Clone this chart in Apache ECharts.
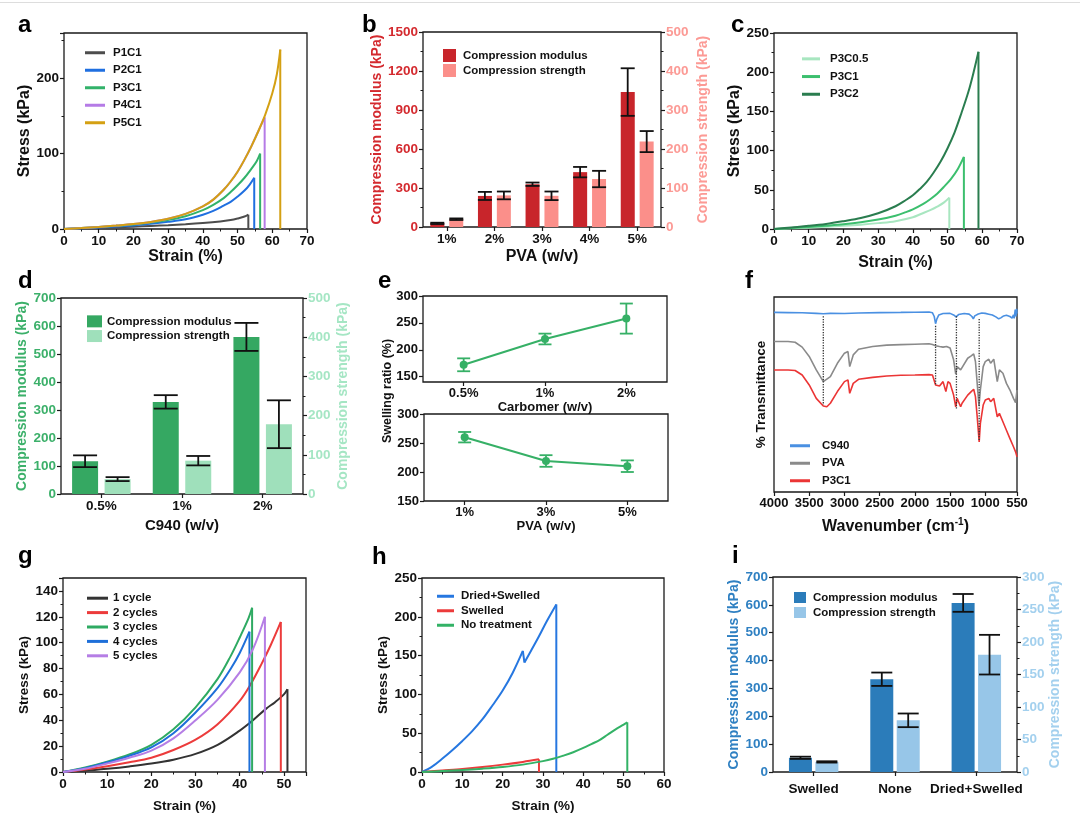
<!DOCTYPE html>
<html>
<head>
<meta charset="utf-8">
<script src="https://cdn.jsdelivr.net/npm/echarts@6/dist/echarts.min.js"></script>
<style>
html, body { margin: 0; padding: 0; background: #fff; }
#main { width: 1080px; height: 821px; }
</style>
</head>
<body>
<div id="main"></div>
<script>
// ---- a: stress-strain for PVA content ----
var aP1C1 = [[0,0],[5,0.7],[10,1.5],[15,2.2],[20,3],[25,4],[30,5],[35,6.2],[40,7.8],[45,10],[48,12],[50,14],[52,16.5],[53.1,19],[53.1,0]];
var aP2C1 = [[0,0],[5,1],[10,2],[15,3.2],[20,4.8],[25,6.8],[30,9.5],[35,13],[40,19],[43,24],[46,31],[48,36],[50,43],[52,51],[53.5,59],[54.8,68],[54.8,0]];
var aP3C1 = [[0,0],[5,1.2],[10,2.7],[15,4.2],[20,6],[25,8.5],[30,12],[35,17],[40,25],[43,32],[46,41],[48,49],[50,58],[52,68],[54,80],[55.5,90],[56.5,100],[56.5,0]];
var aP4C1 = [[0,0],[5,1.3],[10,2.8],[15,4.5],[20,6.5],[25,9.3],[30,13.5],[35,20],[40,30],[43,39],[46,52],[48,63],[50,76],[52,92],[54,110],[56,130],[57.8,148],[57.8,0]];
var aP5C1 = [[0,0],[5,1.3],[10,2.8],[15,4.5],[20,6.5],[25,9.3],[30,13.5],[35,20],[40,30],[43,39],[46,52],[48,63],[50,76],[52,92],[54,110],[56,130],[58,152],[60,180],[61.3,205],[62.3,238],[62.3,0]];

// ---- b: PVA bars ----
var bCats = ['1%', '2%', '3%', '4%', '5%'];
var bModulus = [28, 239, 329, 422, 1038];
var bModulusErr = [5, 31, 13, 40, 183];
var bStrength = [20, 81, 80, 123, 219];
var bStrengthErr = [2, 10, 11, 21, 27];

// ---- c: stress-strain for carbomer content ----
var cP3C05 = [[0,0],[5,0.8],[10,1.7],[15,2.8],[20,4],[25,5.5],[30,7.5],[35,10],[40,15],[42.5,19.5],[45,24],[47,28.5],[49,34],[50.5,40],[50.5,0]];
var cP3C1 = [[0,0],[5,1.2],[10,2.6],[15,4.2],[20,6],[25,8.5],[30,12],[35,17],[38,21.5],[40,25],[43,32],[45,38],[47,45],[49,54],[51,64],[53,77],[54.7,92],[54.7,0]];
var cP3C2 = [[0,0],[5,2],[10,4],[15,6.5],[20,10],[25,14],[30,20],[35,29],[38,37],[40,43],[42,51],[44,60],[46,72],[48,86],[50,103],[52,123],[54,148],[56,175],[57.5,200],[58.9,226],[58.9,0]];

// ---- d: C940 bars ----
var dCats = ['0.5%', '1%', '2%'];
var dModulus = [117, 329, 561];
var dModulusErr = [21, 24, 50];
var dStrength = [38, 85, 178];
var dStrengthErr = [5, 12, 61];

// ---- e: swelling ratio ----
var eCarbCats = ['0.5%', '1%', '2%'];
var eCarbRatio = [172, 220, 258];
var eCarbErr = [12, 10, 28];
var ePvaCats = ['1%', '3%', '5%'];
var ePvaRatio = [260, 219, 210];
var ePvaErr = [9, 10, 10];

// ---- f: FTIR ----
var fC940 = [[4000,92.1],[3800,92.0],[3600,91.9],[3400,91.6],[3300,91.4],[3200,91.6],[3000,91.5],[2800,91.8],[2500,92.0],[2200,92.1],[2000,92.2],[1800,92.3],[1750,91.9],[1725,90.0],[1706,86.3],[1690,88.5],[1660,90.8],[1600,91.5],[1500,91.6],[1450,90.8],[1415,89.8],[1380,91.0],[1300,91.5],[1230,91.2],[1190,90.0],[1170,88.8],[1150,90.3],[1100,91.3],[1050,91.8],[1000,91.6],[950,91.2],[900,90.8],[850,89.8],[810,88.8],[780,89.3],[740,90.3],[700,90.6],[650,90.0],[620,89.2],[600,90.8],[590,89.0],[575,93.5],[565,90.0],[555,94.0],[550,91.5]];
var fPVA = [[4000,77.2],[3800,77.2],[3700,76.8],[3600,74.3],[3500,69.5],[3400,62.6],[3300,56.6],[3200,59.2],[3100,66.0],[3000,71.2],[2950,72.0],[2925,64.3],[2900,65.2],[2875,70.3],[2800,73.2],[2600,74.6],[2400,75.3],[2200,75.6],[2000,75.8],[1800,76.0],[1750,75.6],[1706,75.0],[1650,74.6],[1600,74.3],[1550,74.6],[1500,73.8],[1450,67.8],[1420,60.5],[1400,64.3],[1380,65.2],[1350,62.6],[1330,63.5],[1250,68.6],[1200,69.8],[1165,70.8],[1140,66.9],[1115,55.7],[1090,44.1],[1070,52.3],[1030,64.3],[1000,66.9],[950,68.1],[925,66.0],[880,68.1],[855,69.1],[830,56.6],[800,62.6],[750,60.9],[700,55.7],[650,52.3],[600,48.0],[570,45.8],[550,52.3]];
var fP3C1 = [[4000,62.6],[3800,62.6],[3700,62.3],[3600,60.0],[3500,54.9],[3400,48.0],[3300,44.1],[3250,43.7],[3200,45.5],[3100,51.5],[3000,56.6],[2950,57.5],[2925,50.6],[2900,50.9],[2875,55.7],[2800,57.8],[2600,58.8],[2400,59.5],[2200,59.9],[2000,60.0],[1800,60.2],[1750,60.0],[1706,54.9],[1650,54.4],[1600,56.6],[1560,51.5],[1530,56.6],[1500,55.7],[1450,49.7],[1420,43.7],[1400,48.0],[1380,48.0],[1350,43.7],[1330,45.5],[1250,49.7],[1200,51.5],[1165,52.7],[1140,48.9],[1115,38.6],[1087,25.7],[1070,35.2],[1030,44.6],[1000,47.2],[950,48.0],[925,46.3],[880,48.0],[855,48.9],[830,38.6],[800,40.3],[750,36.0],[700,31.7],[650,27.4],[600,23.2],[570,20.6],[550,18.0]];
var fTicks = [4000, 3500, 3000, 2500, 2000, 1500, 1000, 550];
var fPeaks = [3300, 1706, 1410, 1087];
var fPeakTop = [90.1, 85.2, 90.1, 88.7];
var fPeakBottom = [44.6, 54.9, 42.0, 26.6];
var fPeakLabelX = [3300, 1690, 1450, 1087];
var fPeakLabelY = [38.6, 96.1, 36.0, 21.4];

// ---- g: cycles ----
var g1 = [[0,0],[5,1],[10,2.5],[15,4.3],[20,6.5],[25,9.5],[30,14],[35,21],[40,32],[43,40],[46,49],[48,54],[50,60],[50.8,64],[50.8,0]];
var g2 = [[0,0],[5,2],[10,4.5],[15,7.5],[20,11],[25,17],[30,25],[35,37],[40,55],[42.5,68],[45,84],[47,98],[49.3,116],[49.3,0]];
var g3 = [[0,0],[5,3.5],[10,8],[15,13.5],[20,21],[25,33],[30,50],[35,72],[38,90],[40,104],[42,119],[42.8,127],[42.8,0]];
var g4 = [[0,0],[5,3],[10,7.5],[15,12.5],[20,19],[25,30],[30,46],[35,65],[38,80],[40,92],[42.2,108.5],[42.2,0]];
var g5 = [[0,0],[5,2.5],[10,6.5],[15,11],[20,16.5],[25,26],[30,40],[35,56],[40,77],[43,95],[45.7,120],[45.7,0]];

// ---- h: treatment ----
var hDried = [[0,0],[2.5,7],[5,17],[7.5,28],[10,40],[12.5,53],[15,68],[17.5,86],[20,105],[22.5,128],[25,156],[25.4,141],[27,156],[29,175],[31,195],[33.3,216],[33.3,0]];
var hSwelled = [[0,0],[5,2],[10,4],[15,6.5],[20,9.5],[25,13],[29,16.3],[29,0]];
var hNone = [[0,0],[5,1.2],[10,2.5],[15,4.3],[20,6.5],[25,9.5],[30,14],[32.5,17],[35,21],[37.5,25.5],[40,31],[42,36],[44,41],[46,48],[48,55],[50,61],[50.9,64],[50.9,0]];

// ---- i: treatment bars ----
var iCats = ['Swelled', 'None', 'Dried+Swelled'];
var iModulus = [51, 333, 607];
var iModulusErr = [4, 24, 32];
var iStrength = [15.5, 79.5, 180.5];
var iStrengthErr = [1, 10.5, 30.5];

var FONT = '"Liberation Sans", Arial, sans-serif';
var INK = '#1a1a1a';

var grid = [], xAxis = [], yAxis = [], series = [], legend = [], graphic = [];

function addGrid(left, top, width, height) {
    grid.push({
        left: left, top: top, width: width, height: height,
        show: true, borderColor: INK, borderWidth: 1.3, backgroundColor: 'rgba(0,0,0,0)'
    });
    return grid.length - 1;
}

function addAxis(list, o) {
    var step = o.interval;
    var fmt = o.formatter;
    if (!fmt && step && o.type !== 'category') {
        fmt = function (v) { return Math.abs(v % step) < 1e-6 ? String(v) : ''; };
    }
    var ax = {
        type: o.type || 'value',
        gridIndex: o.grid,
        position: o.position,
        min: o.min, max: o.max, interval: o.interval,
        inverse: !!o.inverse,
        data: o.data,
        boundaryGap: o.type === 'category',
        name: o.name || '',
        nameLocation: 'middle',
        nameGap: o.nameGap || 20,
        nameTextStyle: {
            fontFamily: FONT, fontWeight: 'bold', fontSize: o.nameSize || 15,
            color: o.nameColor || '#111', rich: o.rich
        },
        axisLine: { show: false },
        splitLine: { show: false },
        axisTick: {
            show: o.ticks !== false, length: 4, alignWithLabel: true,
            lineStyle: { color: INK, width: 1.2 }
        },
        minorTick: {
            show: !!o.minor, splitNumber: 2, length: 2.5,
            lineStyle: { color: INK, width: 1 }
        },
        axisLabel: {
            show: o.labels !== false,
            fontFamily: FONT, fontWeight: 'bold', fontSize: o.labelSize || 13.5,
            color: o.labelColor || '#111', margin: o.margin || 5,
            interval: 0
        }
    };
    if (fmt) ax.axisLabel.formatter = fmt;
    if (o.labelValues) {
        ax.axisLabel.customValues = o.labelValues;
        ax.axisTick.customValues = o.labelValues;
    }
    list.push(ax);
    return list.length - 1;
}

function pushLine(name, xi, yi, data, color, smooth, extra) {
    var s = {
        name: name, type: 'line', xAxisIndex: xi, yAxisIndex: yi, data: data,
        showSymbol: false, symbol: 'none', color: color, smooth: smooth,
        lineStyle: { color: color, width: 2 }, z: 3
    };
    for (var k in (extra || {})) s[k] = extra[k];
    series.push(s);
}

// stress-strain curves: rising runs drawn smooth, falls drawn straight
function addCurve(name, xi, yi, data, color) {
    var run = [data[0]];
    var rising = true;
    for (var i = 1; i < data.length; i++) {
        var up = data[i][1] >= data[i - 1][1];
        if (up !== rising && run.length > 1) {
            pushLine(name, xi, yi, run, color, rising ? 0.35 : false);
            run = [data[i - 1]];
        }
        rising = up;
        run.push(data[i]);
    }
    pushLine(name, xi, yi, run, color, rising ? 0.35 : false);
}

function addErr(xi, yi, means, errs, off, cap, color, width) {
    var rows = means.map(function (m, i) { return [i, m - errs[i], m + errs[i]]; });
    series.push({
        type: 'custom', xAxisIndex: xi, yAxisIndex: yi, z: 10, silent: true,
        encode: { x: 0, y: [1, 2] },
        data: rows,
        renderItem: function (params, api) {
            var p1 = api.coord([api.value(0), api.value(1)]);
            var p2 = api.coord([api.value(0), api.value(2)]);
            var x = p1[0] + off;
            var st = { stroke: color, lineWidth: width };
            return {
                type: 'group', children: [
                    { type: 'line', shape: { x1: x, y1: p1[1], x2: x, y2: p2[1] }, style: st },
                    { type: 'line', shape: { x1: x - cap / 2, y1: p1[1], x2: x + cap / 2, y2: p1[1] }, style: st },
                    { type: 'line', shape: { x1: x - cap / 2, y1: p2[1], x2: x + cap / 2, y2: p2[1] }, style: st }
                ]
            };
        }
    });
}

function addLegend(names, left, top, rowH, o) {
    legend.push({
        data: names, left: left, top: top, orient: 'vertical', itemGap: 0,
        icon: 'rect', itemWidth: o.w, itemHeight: o.h, selectedMode: false,
        formatter: function (n) { return n.split('|')[1]; },
        textStyle: {
            fontFamily: FONT, fontWeight: 'bold', fontSize: o.size || 11.5, color: '#111',
            lineHeight: rowH, padding: [0, 0, 0, o.pad || 0]
        }
    });
}

// ===== a =====
var ga = addGrid(64, 33, 243, 196);
var xa = addAxis(xAxis, { grid: ga, min: 0, max: 70, interval: 10, minor: true, name: 'Strain (%)', nameGap: 20, nameSize: 16 });
var ya = addAxis(yAxis, { grid: ga, min: 0, max: 260, interval: 100, minor: true, name: 'Stress (kPa)', nameGap: 29, nameSize: 16 });
var aColors = ['#4d4d4d', '#1f6fe0', '#32b26a', '#b57be6', '#d4a013'];
var aNames = ['P1C1', 'P2C1', 'P3C1', 'P4C1', 'P5C1'];
[aP1C1, aP2C1, aP3C1, aP4C1, aP5C1].forEach(function (d, i) {
    addCurve('a|' + aNames[i], xa, ya, d, aColors[i]);
});
addLegend(aNames.map(function (n) { return 'a|' + n; }), 80, 39, 17.5, { w: 20, h: 3, pad: 3 });

// ===== b =====
var gb = addGrid(423, 32, 238, 195);
var xb = addAxis(xAxis, { grid: gb, type: 'category', data: bCats, name: 'PVA (w/v)', nameGap: 22, nameSize: 16 });
var ybL = addAxis(yAxis, { grid: gb, min: 0, max: 1500, interval: 300, minor: true, labelColor: '#d42a2f', nameColor: '#d42a2f', name: 'Compression modulus (kPa)', nameGap: 36, nameSize: 14 });
var ybR = addAxis(yAxis, { grid: gb, position: 'right', min: 0, max: 500, interval: 100, minor: true, labelColor: '#fc9a95', nameColor: '#fc9a95', name: 'Compression strength (kPa)', nameGap: 35, nameSize: 14 });
series.push({ name: 'b|Compression modulus', type: 'bar', xAxisIndex: xb, yAxisIndex: ybL, data: bModulus, barWidth: 14, barGap: '35%', itemStyle: { color: '#c8252b' } });
series.push({ name: 'b|Compression strength', type: 'bar', xAxisIndex: xb, yAxisIndex: ybR, data: bStrength, barWidth: 14, barGap: '35%', itemStyle: { color: '#fb8f8a' } });
addErr(xb, ybL, bModulus, bModulusErr, -9.5, 14, '#111', 1.8);
addErr(xb, ybR, bStrength, bStrengthErr, 9.5, 14, '#111', 1.8);
addLegend(['b|Compression modulus', 'b|Compression strength'], 438, 43, 15, { w: 13, h: 13, pad: 2 });

// ===== c =====
var gc = addGrid(774, 33, 243, 196);
var xc = addAxis(xAxis, { grid: gc, min: 0, max: 70, interval: 10, minor: true, name: 'Strain (%)', nameGap: 26, nameSize: 16 });
var yc = addAxis(yAxis, { grid: gc, min: 0, max: 250, interval: 50, minor: true, name: 'Stress (kPa)', nameGap: 29, nameSize: 16 });
addCurve('c|P3C0.5', xc, yc, cP3C05, '#a8e6c0');
addCurve('c|P3C1', xc, yc, cP3C1, '#3cbf6e');
addCurve('c|P3C2', xc, yc, cP3C2, '#2a7d4f');
addLegend(['c|P3C0.5', 'c|P3C1', 'c|P3C2'], 797, 45, 17.7, { w: 18, h: 3, pad: 5 });

// ===== d =====
var gd = addGrid(61, 298, 242, 196);
var xd = addAxis(xAxis, { grid: gd, type: 'category', data: dCats, name: 'C940 (w/v)', nameGap: 24, nameSize: 15 });
var ydL = addAxis(yAxis, { grid: gd, min: 0, max: 700, interval: 100, labelColor: '#3cb06a', nameColor: '#3cb06a', name: 'Compression modulus (kPa)', nameGap: 27, nameSize: 14 });
var ydR = addAxis(yAxis, { grid: gd, position: 'right', min: 0, max: 500, interval: 100, minor: true, labelColor: '#a5e6c4', nameColor: '#a5e6c4', name: 'Compression strength (kPa)', nameGap: 33, nameSize: 14 });
series.push({ name: 'd|Compression modulus', type: 'bar', xAxisIndex: xd, yAxisIndex: ydL, data: dModulus, barWidth: 26, barGap: '25%', itemStyle: { color: '#35a862' } });
series.push({ name: 'd|Compression strength', type: 'bar', xAxisIndex: xd, yAxisIndex: ydR, data: dStrength, barWidth: 26, barGap: '25%', itemStyle: { color: '#9fe0bb' } });
addErr(xd, ydL, dModulus, dModulusErr, -16.25, 24, '#111', 1.8);
addErr(xd, ydR, dStrength, dStrengthErr, 16.25, 24, '#111', 1.8);
addLegend(['d|Compression modulus', 'd|Compression strength'], 82, 309, 14.7, { w: 15, h: 12, pad: 0 });

// ===== e =====
var ge1 = addGrid(423, 296, 244, 86);
var xe1 = addAxis(xAxis, { grid: ge1, type: 'category', data: eCarbCats, name: 'Carbomer (w/v)', nameGap: 17, nameSize: 13, labelSize: 13 });
var ye1 = addAxis(yAxis, { grid: ge1, min: 140, max: 300, labelValues: [150, 200, 250, 300], labelSize: 13 });
pushLine('e|carb', xe1, ye1, eCarbRatio, '#36b066', false, { showSymbol: true, symbol: 'circle', symbolSize: 8 });
addErr(xe1, ye1, eCarbRatio, eCarbErr, 0, 13, '#36b066', 1.8);
var ge2 = addGrid(424, 414, 244, 87);
var xe2 = addAxis(xAxis, { grid: ge2, type: 'category', data: ePvaCats, name: 'PVA (w/v)', nameGap: 19, nameSize: 13, labelSize: 13 });
var ye2 = addAxis(yAxis, { grid: ge2, min: 150, max: 300, interval: 50, labelSize: 13 });
pushLine('e|pva', xe2, ye2, ePvaRatio, '#36b066', false, { showSymbol: true, symbol: 'circle', symbolSize: 8 });
addErr(xe2, ye2, ePvaRatio, ePvaErr, 0, 13, '#36b066', 1.8);

// ===== f =====
var gf = addGrid(774, 297, 243, 195);
var xf = addAxis(xAxis, {
    grid: gf, min: 550, max: 4000, inverse: true, labelValues: fTicks, labelSize: 13,
    formatter: function (v) { return String(v); },
    name: 'Wavenumber (cm{sup|-1})', nameGap: 25, nameSize: 16,
    rich: { sup: { fontFamily: FONT, fontWeight: 'bold', fontSize: 10, verticalAlign: 'top', padding: [0, 0, 10, 0] } }
});
var yf = addAxis(yAxis, { grid: gf, min: 0, max: 100, labels: false, ticks: false, name: '% Transmittance', nameGap: 6, nameSize: 13.5 });
pushLine('f|C940', xf, yf, fC940, '#4a90e2', false, { lineStyle: { color: '#4a90e2', width: 1.6 } });
pushLine('f|PVA', xf, yf, fPVA, '#8a8a8a', false, { lineStyle: { color: '#8a8a8a', width: 1.6 } });
pushLine('f|P3C1', xf, yf, fP3C1, '#eb3535', false, { lineStyle: { color: '#eb3535', width: 1.6 } });
fPeaks.forEach(function (p, i) {
    pushLine('f|peak' + p, xf, yf, [[p, fPeakTop[i]], [p, fPeakBottom[i]]], '#333', false, { lineStyle: { color: '#333', width: 1.3, type: 'dotted' }, z: 4 });
});
series.push({
    type: 'scatter', xAxisIndex: xf, yAxisIndex: yf, symbolSize: 1, silent: true,
    itemStyle: { opacity: 0 },
    data: fPeaks.map(function (p, i) { return [fPeakLabelX[i], fPeakLabelY[i], String(p)]; }),
    label: {
        show: true, position: 'inside', formatter: function (p) { return p.value[2]; },
        fontFamily: FONT, fontSize: 11, color: '#222'
    }
});
addLegend(['f|C940', 'f|PVA', 'f|P3C1'], 785, 432, 17.5, { w: 20, h: 3, pad: 7 });

// ===== g =====
var gg = addGrid(63, 578, 243, 194);
var xg = addAxis(xAxis, { grid: gg, min: 0, max: 55, interval: 10, minor: true, name: 'Strain (%)', nameGap: 27, nameSize: 13.5 });
var yg = addAxis(yAxis, { grid: gg, min: 0, max: 150, interval: 20, minor: true, name: 'Stress (kPa)', nameGap: 28, nameSize: 13.5 });
var gColors = ['#333333', '#ec3b3b', '#2eaa62', '#1e6fd9', '#b57ee5'];
var gNames = ['1 cycle', '2 cycles', '3 cycles', '4 cycles', '5 cycles'];
[g1, g2, g3, g4, g5].forEach(function (d, i) { addCurve('g|' + gNames[i], xg, yg, d, gColors[i]); });
addLegend(gNames.map(function (n) { return 'g|' + n; }), 82, 586, 14.4, { w: 21, h: 3, pad: 0 });

// ===== h =====
var gh = addGrid(422, 578, 242, 194);
var xh = addAxis(xAxis, { grid: gh, min: 0, max: 60, interval: 10, minor: true, name: 'Strain (%)', nameGap: 27, nameSize: 13.5 });
var yh = addAxis(yAxis, { grid: gh, min: 0, max: 250, interval: 50, minor: true, name: 'Stress (kPa)', nameGap: 27, nameSize: 13.5 });
addCurve('h|Dried+Swelled', xh, yh, hDried, '#2677e0');
addCurve('h|Swelled', xh, yh, hSwelled, '#ec3b3b');
addCurve('h|No treatment', xh, yh, hNone, '#33b266');
addLegend(['h|Dried+Swelled', 'h|Swelled', 'h|No treatment'], 432, 584, 14.5, { w: 17, h: 3, pad: 2 });

// ===== i =====
var gi = addGrid(773, 577, 244, 195);
var xi = addAxis(xAxis, { grid: gi, type: 'category', data: iCats, margin: 10 });
var yiL = addAxis(yAxis, { grid: gi, min: 0, max: 700, interval: 100, labelColor: '#2f80c2', nameColor: '#2f80c2', name: 'Compression modulus (kPa)', nameGap: 26, nameSize: 14 });
var yiR = addAxis(yAxis, { grid: gi, position: 'right', min: 0, max: 300, interval: 50, minor: true, labelColor: '#a3d0ee', nameColor: '#a3d0ee', name: 'Compression strength (kPa)', nameGap: 30, nameSize: 14 });
series.push({ name: 'i|Compression modulus', type: 'bar', xAxisIndex: xi, yAxisIndex: yiL, data: iModulus, barWidth: 23, barGap: '15%', itemStyle: { color: '#2b7cba' } });
series.push({ name: 'i|Compression strength', type: 'bar', xAxisIndex: xi, yAxisIndex: yiR, data: iStrength, barWidth: 23, barGap: '15%', itemStyle: { color: '#97c6e8' } });
addErr(xi, yiL, iModulus, iModulusErr, -13.2, 21, '#111', 1.8);
addErr(xi, yiR, iStrength, iStrengthErr, 13.2, 21, '#111', 1.8);
addLegend(['i|Compression modulus', 'i|Compression strength'], 789, 585, 15, { w: 12, h: 11, pad: 2 });

// panel letters and shared label
var panelLetters = [['a', 18, 37], ['b', 362, 37], ['c', 731, 37], ['d', 18, 293], ['e', 378, 293], ['f', 745, 293], ['g', 18, 568], ['h', 372, 569], ['i', 732, 568]];
panelLetters.forEach(function (p) {
    graphic.push({ type: 'text', x: p[1], y: p[2], silent: true,
        style: { text: p[0], font: 'bold 24px ' + FONT, fill: '#000', align: 'left', verticalAlign: 'bottom' } });
});
graphic.push({ type: 'text', x: 388, y: 391, rotation: Math.PI / 2, silent: true,
    style: { text: 'Swelling ratio (%)', x: 0, y: 0, font: 'bold 12.5px ' + FONT, fill: '#111', align: 'center', verticalAlign: 'middle' } });
graphic.push({ type: 'rect', shape: { x: 0, y: 2, width: 1080, height: 1 }, style: { fill: '#dddddd' }, silent: true });

var chart = echarts.init(document.getElementById('main'));
chart.setOption({
    animation: false,
    backgroundColor: '#fff',
    grid: grid,
    xAxis: xAxis,
    yAxis: yAxis,
    legend: legend,
    graphic: graphic,
    series: series
});
</script>
</body>
</html>
